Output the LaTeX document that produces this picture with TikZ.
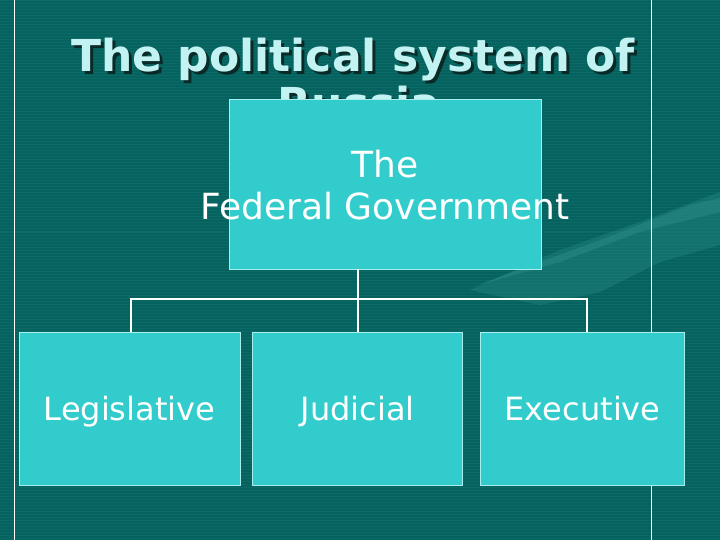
\documentclass[tikz,border=0pt]{standalone}
\usepackage{fontspec}
\setmainfont{DejaVu Sans}
\usetikzlibrary{positioning}
\definecolor{slidebg}{HTML}{06625E}
\definecolor{stripe}{HTML}{0B6A66}
\definecolor{boxfill}{HTML}{33CCCC}
\definecolor{boxline}{HTML}{A8EEEE}
\definecolor{titlecol}{HTML}{C2F2F2}
\definecolor{titleshade}{HTML}{0A2A28}
\definecolor{swoosh}{HTML}{2E8E8A}
\newcommand{\shadowtitle}[1]{\makebox[0pt][l]{\hspace{3pt}\raisebox{-2.5pt}{\color{titleshade}#1}}#1}
\tikzset{branch/.style = {draw=boxline, fill=boxfill, line width=0.8pt,
                          minimum height=153pt, inner sep=0pt, text=white,
                          font=\fontsize{32}{38}\selectfont,
                          text height=23pt, text depth=0pt},
         link/.style = {draw=white, line width=2pt},
         titletext/.style = {font=\bfseries\fontsize{44}{50}\selectfont,
                             text=titlecol, anchor=base, inner sep=0pt}}

\begin{document}
\begin{tikzpicture}[x=1pt, y=-1pt]
    \useasboundingbox (0,0) rectangle (720,540);
    \fill[slidebg] (0,0) rectangle (720,540);
    \foreach \y in {1,4,...,540} {
      \draw[stripe, line width=1pt] (0,\y) -- (720,\y);
    }
    % background swoosh
    \fill[swoosh, opacity=0.35] (470,290) -- (560,250) -- (640,222) -- (720,192)
      -- (720,245) -- (660,262) -- (600,292) -- (540,305) -- cycle;
    \fill[swoosh, opacity=0.45] (475,286) -- (600,240) -- (690,205) -- (720,198)
      -- (720,212) -- (640,232) -- (560,262) -- cycle;
    \draw[white, line width=0.8pt] (14,0) -- (14,540);
    \draw[white, line width=0.8pt] (651,0) -- (651,540);

    % title, partly hidden by the top box
    \node[titletext] (title) at (353,72) {\shadowtitle{The political system of}};
    \node[titletext] (russia) at (359,120) {\shadowtitle{Russia}};

    \node[branch, minimum width=312pt, minimum height=170pt] (gov) at (385,184) {};
    \node[text=white, align=center, inner sep=0pt,
          font=\fontsize{36}{42}\selectfont] (govtext) at ([yshift=-1pt]gov.center)
          {The\\Federal Government};

    \node[branch, minimum width=221pt] (leg) at (129.5,408.5) {Legislative};
    \node[branch, minimum width=210pt, right=12pt of leg] (jud) {Judicial};
    \node[branch, minimum width=204pt, right=17pt of jud] (exe) {Executive};

    \coordinate (bar) at (0,299);
    \draw[link] (jud.north) -- (jud.north |- gov.south);
    \draw[link] ([xshift=1.5pt]leg.north) |- ([xshift=4pt]exe.north |- bar)
      -- ([xshift=4pt]exe.north);
  \end{tikzpicture}
\end{document}
